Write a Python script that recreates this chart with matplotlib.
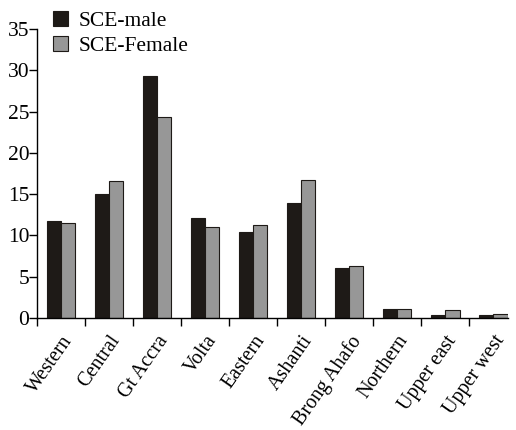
import matplotlib.pyplot as plt
import numpy as np

regions = ["Western", "Central", "Gt Accra", "Volta", "Eastern", "Ashanti",
           "Brong Ahafo", "Northern", "Upper east", "Upper west"]
sce_male = [11.8, 15.0, 29.3, 12.1, 10.4, 13.9, 6.0, 1.05, 0.37, 0.37]
sce_female = [11.5, 16.6, 24.4, 11.0, 11.3, 16.7, 6.3, 1.12, 0.98, 0.45]

plt.rcParams["font.family"] = ["Liberation Serif", "DejaVu Serif"]

fig = plt.figure(figsize=(5.16, 4.30), dpi=100)
ax = fig.add_axes([37 / 516, 1 - 318 / 430, 471 / 516, (318 - 29) / 430])

x = np.arange(len(regions))
w = 0.3
ax.bar(x - w / 2, sce_male, w, color="#1e1a17", edgecolor="#1e1a17",
       linewidth=0.8, label="SCE-male")
ax.bar(x + w / 2, sce_female, w, color="#979797", edgecolor="#1e1a17",
       linewidth=0.8, label="SCE-Female")

ax.set_xlim(-0.5, 9.31)
ax.set_ylim(0, 35)
ax.set_yticks(range(0, 36, 5))

# boundary ticks between regions, labels centred under each pair
ax.set_xticks(np.arange(len(regions)) - 0.5)
ax.set_xticklabels([])
ax.set_xticks(x, minor=True)
ax.set_xticklabels(regions, minor=True, rotation=55, ha="right",
                   rotation_mode="anchor", fontsize=14.5)
ax.tick_params(axis="x", which="minor", length=0, pad=10)
ax.tick_params(axis="x", which="major", length=6, width=1, direction="out")
ax.tick_params(axis="y", length=5.5, width=1, labelsize=15.5, pad=0)

for s in ("top", "right"):
    ax.spines[s].set_visible(False)
for s in ("left", "bottom"):
    ax.spines[s].set_linewidth(1)

ax.legend(loc="upper left", bbox_to_anchor=(0.015, 1.093), frameon=False,
          fontsize=15.5, handlelength=0.7, handleheight=0.7,
          handletextpad=0.5, labelspacing=0.25, borderaxespad=0)

fig.savefig("out.png", dpi=100)
